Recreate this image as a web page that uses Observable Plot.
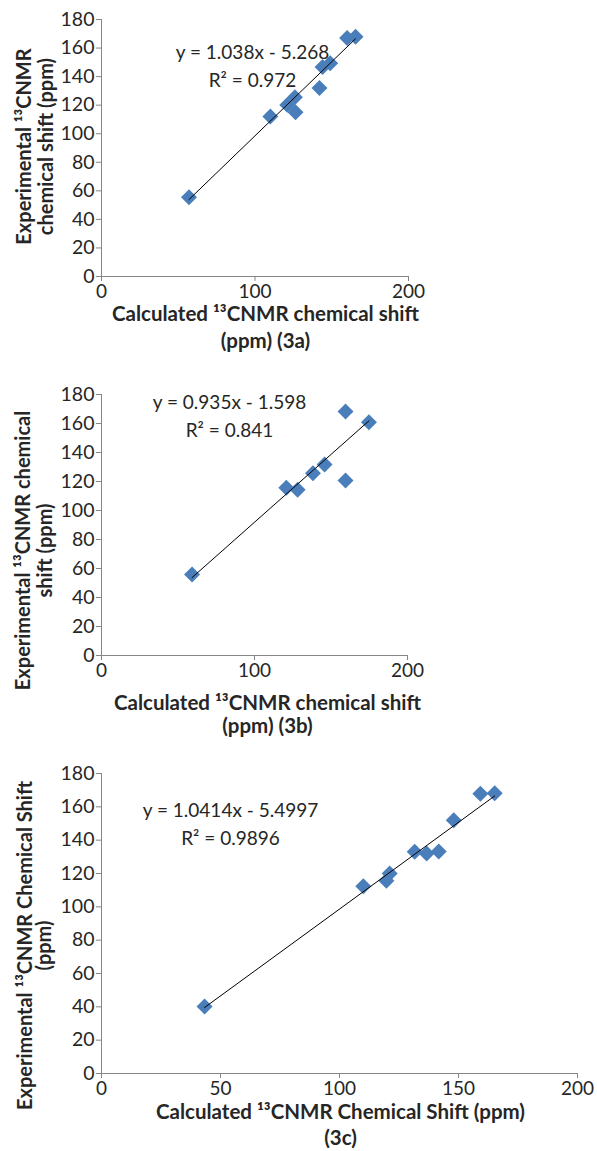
<!DOCTYPE html>
<html>
<head>
<meta charset="utf-8">
<script src="https://cdn.jsdelivr.net/npm/d3@7"></script>
<script src="https://cdn.jsdelivr.net/npm/@observablehq/plot@0.6"></script>
<style>
  html, body { margin: 0; padding: 0; background: #fff; }
  #root { width: 597px; }
  #root svg { display: block; }
</style>
</head>
<body>
<div id="root"></div>
<script>
// ---------- data ----------
const calc3a = [57, 110, 121, 126, 126.4, 142, 144, 149, 160, 165.5];
const exp3a  = [55.5, 112, 120.2, 125.6, 115, 132, 146.7, 149.4, 167, 168];

const calc3b = [59.2, 120.8, 128.2, 138.2, 145.8, 159.5, 159.5, 174.8];
const exp3b  = [55.9, 115.7, 114.3, 125.7, 131.7, 120.7, 168.3, 160.9];

const calc3c = [43.3, 110, 119.7, 121.1, 131.6, 136.6, 141.7, 148, 159.2, 165.2];
const exp3c  = [40.2, 112.4, 115.6, 120, 133, 132, 133.2, 152, 167.8, 168.2];

const slopes     = [1.038, 0.935, 1.0414];
const intercepts = [-5.268, -1.598, -5.4997];
const eqLabels   = ["y = 1.038x - 5.268", "y = 0.935x - 1.598", "y = 1.0414x - 5.4997"];
const r2Labels   = ["R² = 0.972", "R² = 0.841", "R² = 0.9896"];

const yTicks   = [0, 20, 40, 60, 80, 100, 120, 140, 160, 180];
const xTicksAB = [0, 100, 200];
const xTicksC  = [0, 50, 100, 150, 200];

const xTitles = [
  ["Calculated ¹³CNMR chemical shift", "(ppm) (3a)"],
  ["Calculated ¹³CNMR chemical shift", "(ppm) (3b)"],
  ["Calculated ¹³CNMR Chemical Shift (ppm)", "(3c)"]
];
const yTitles = [
  ["Experimental ¹³CNMR", "chemical shift (ppm)"],
  ["Experimental ¹³CNMR chemical", "shift (ppm)"],
  ["Experimental ¹³CNMR Chemical Shift", "(ppm)"]
];

// ---------- styling / layout ----------
const FONT = "Lato, 'Open Sans', sans-serif";
const AXIS = "#868686";
const BLUE = "#4a7ebb";
const TXT = "#262626";

const layouts = [
  {height: 370, mt: 19, mb: 94, mr: 189, xTicks: xTicksAB,
   eq: {dx: 151, dy1: 33.5, dy2: 61.3},
   xt: {dx: 10.5, dy1: 38, dy2: 65},
   yt: {dy: -1.5, dx1: -77, dx2: -55}},
  {height: 380, mt: 24, mb: 95, mr: 190, xTicks: xTicksAB,
   eq: {dx: 128, dy1: 8.3, dy2: 36},
   xt: {dx: 13, dy1: 48, dy2: 71},
   yt: {dy: 25.5, dx1: -78, dx2: -56}},
  {height: 401, mt: 23, mb: 78, mr: 20, xTicks: xTicksC,
   eq: {dx: 129, dy1: 37, dy2: 65},
   xt: {dx: 1, dy1: 38.5, dy2: 64.5},
   yt: {dy: 22, dx1: -76, dx2: -57}}
];

const datasets = [
  calc3a.map((x, i) => ({x, y: exp3a[i]})),
  calc3b.map((x, i) => ({x, y: exp3b[i]})),
  calc3c.map((x, i) => ({x, y: exp3c[i]}))
];

const root = document.getElementById("root");

datasets.forEach((pts, k) => {
  const L = layouts[k];
  const xs = pts.map(d => d.x);
  const fit = [d3.min(xs), d3.max(xs)].map(x => ({x, y: slopes[k] * x + intercepts[k]}));

  const chart = Plot.plot({
    width: 597,
    height: L.height,
    marginLeft: 101,
    marginRight: L.mr,
    marginTop: L.mt,
    marginBottom: L.mb,
    style: {fontFamily: FONT, fontSize: "19px", color: TXT, background: "#fff"},
    x: {domain: [0, 200]},
    y: {domain: [0, 180]},
    marks: [
      Plot.ruleX([0], {stroke: AXIS, strokeWidth: 1}),
      Plot.ruleY([0], {stroke: AXIS, strokeWidth: 1}),
      Plot.axisY({ticks: yTicks, tickSize: 5, tickPadding: 2, stroke: AXIS, fill: TXT, fontSize: 19.5, label: null}),
      Plot.axisX({ticks: L.xTicks, tickSize: 5, tickPadding: 3, stroke: AXIS, fill: TXT, fontSize: 19, label: null}),
      Plot.dot(pts, {x: "x", y: "y", symbol: "diamond2", r: 7.2, fill: BLUE, stroke: "none"}),
      Plot.line(fit, {x: "x", y: "y", stroke: "#000", strokeWidth: 1}),
      Plot.text([eqLabels[k]], {frameAnchor: "top-left", text: d => d, dx: L.eq.dx, dy: L.eq.dy1,
        textAnchor: "middle", lineAnchor: "middle", fontSize: 19, fill: TXT}),
      Plot.text([r2Labels[k]], {frameAnchor: "top-left", text: d => d, dx: L.eq.dx, dy: L.eq.dy2,
        textAnchor: "middle", lineAnchor: "middle", fontSize: 19, fill: TXT}),
      Plot.text([xTitles[k][0]], {frameAnchor: "bottom", text: d => d, dx: L.xt.dx, dy: L.xt.dy1,
        textAnchor: "middle", lineAnchor: "middle", fontSize: 20.5, fontWeight: "bold", fill: TXT}),
      Plot.text([xTitles[k][1]], {frameAnchor: "bottom", text: d => d, dx: L.xt.dx, dy: L.xt.dy2,
        textAnchor: "middle", lineAnchor: "middle", fontSize: 20.5, fontWeight: "bold", fill: TXT}),
      Plot.text([yTitles[k][0]], {frameAnchor: "left", text: d => d, dx: L.yt.dx1, dy: L.yt.dy, rotate: -90,
        textAnchor: "middle", lineAnchor: "middle", fontSize: 20, fontWeight: "bold", fill: TXT}),
      Plot.text([yTitles[k][1]], {frameAnchor: "left", text: d => d, dx: L.yt.dx2, dy: L.yt.dy, rotate: -90,
        textAnchor: "middle", lineAnchor: "middle", fontSize: 20, fontWeight: "bold", fill: TXT})
    ]
  });
  root.appendChild(chart);
});
</script>
</body>
</html>
